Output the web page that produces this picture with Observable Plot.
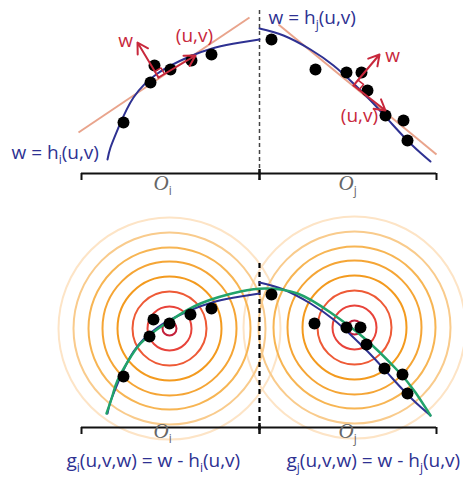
<!DOCTYPE html>
<html>
<head>
<meta charset="utf-8">
<script src="https://cdn.jsdelivr.net/npm/d3@7"></script>
<script src="https://cdn.jsdelivr.net/npm/@observablehq/plot@0.6"></script>
<style>
  html, body { margin: 0; padding: 0; background: #fff; }
  #chart svg { display: block; }
</style>
</head>
<body>
<div id="chart"></div>
<script>
// ---- data (diagram coordinates, y grows downward) ----
const pointsTopLeft = [[123,122],[150,82],[154,65],[170,69],[191,60],[211,54]];
const pointsTopRight = [[271,39],[315,69],[346,72],[361,72],[367,90],[385,115],[403,120],[407,140]];
const pointsBottomLeft = [[123,376],[149,336],[153,319],[169,323],[190,314],[211,308]];
const pointsBottomRight = [[271,294],[314,323],[346,327],[360,327],[366,344],[384,368],[402,374],[407,393]];

const blueTopLeft = [[107,159],[110,147],[118,127],[133,97],[157,73],[187,57],[215,47],[240,42],[259,39]];
const blueTopRight = [[259,28],[283,35],[310,49],[333,65],[353,83],[372,102],[392,124],[412,145],[430,161]];
const blueBottomLeft = [[107,413],[110,401],[118,381],[133,351],[157,327],[187,311],[215,301],[240,296],[259,293]];
const blueBottomRight = [[259,282],[283,289],[310,303],[333,319],[353,337],[372,356],[392,378],[412,399],[430,415]];
const greenCurve = [[106,413],[112,395],[117,380],[128,360],[140,343],[155,330],[170,320],[200,303],[240,291],[265,288],[297,293],[330,312],[363,337],[397,370],[415,392],[430,415]];

const tangentLines = [
  {x1:78, y1:132, x2:249, y2:17},
  {x1:278, y1:24, x2:436, y2:154}
];
const arrowCorners = [[158,77],[353,85]];
const arrowUV = [[195,55],[385,110]];
const arrowW = [[137,42],[379,54]];

const ringCenters = [[169,328],[354,327]];
const ringRadii = [7,22,37,52,67,81,96,111];
const ringColors = ["#c4203a","#e8433a","#ee5a36","#f39a1e","#f5a535","#f7b553","#f9cb8c","#fde4c6"];

const dashedX = 259;
const dashedSpans = [[10,180],[263,432]];
const bracketY = [173,427];
const bracketX = [81,436];
const bracketTick = 7;

const redLabels = [
  {text:"w", x:125, y:40},
  {text:"(u,v)", x:194, y:35},
  {text:"w", x:392, y:55},
  {text:"(u,v)", x:359, y:115}
];
const blueLabels = [
  {text:"w = h_i(u,v)", x:11, y:152},
  {text:"w = h_j(u,v)", x:268, y:17},
  {text:"g_i(u,v,w) = w - h_i(u,v)", x:66, y:460},
  {text:"g_j(u,v,w) = w - h_j(u,v)", x:286, y:460}
];
const domainLabels = [
  {text:"O_i", x:153, y:183},
  {text:"O_j", x:338, y:183},
  {text:"O_i", x:153, y:431},
  {text:"O_j", x:338, y:431}
];

// ---- derived tables for the marks ----
const BLUE = "#2e3192", RED = "#c8283c", SALMON = "#e9a48c", GREEN = "#21a36b";
const rings = [];
ringCenters.forEach(([cx,cy]) => ringRadii.forEach((r,i) => rings.push({x:cx, y:cy, r, color:ringColors[i]})));
rings.sort((a,b) => b.r - a.r);
const arrows = [];
arrowCorners.forEach((c,i) => {
  arrows.push({x1:c[0], y1:c[1], x2:arrowUV[i][0], y2:arrowUV[i][1]});
  arrows.push({x1:c[0], y1:c[1], x2:arrowW[i][0], y2:arrowW[i][1]});
});
const rightAngles = [];
arrowCorners.forEach((c,i) => {
  const s = 7;
  const ux = arrowUV[i][0]-c[0], uy = arrowUV[i][1]-c[1], ul = Math.hypot(ux,uy);
  const wx = arrowW[i][0]-c[0], wy = arrowW[i][1]-c[1], wl = Math.hypot(wx,wy);
  const a = [c[0]+s*ux/ul, c[1]+s*uy/ul];
  const b = [a[0]+s*wx/wl, a[1]+s*wy/wl];
  const d = [c[0]+s*wx/wl, c[1]+s*wy/wl];
  rightAngles.push({id:i, pts:[a,b,d]});
});
const rightAnglePts = rightAngles.flatMap(r => r.pts.map(p => ({id:r.id, x:p[0], y:p[1]})));
const dashed = dashedSpans.map(([y1,y2]) => ({x:dashedX, y1, y2}));
const brackets = bracketY.map(y => ({y, x1:bracketX[0], x2:bracketX[1]}));
const ticks = bracketY.flatMap(y => bracketX.map(x => ({x, y1:y, y2:y+bracketTick})));
const midTicks = bracketY.map(y => ({x:dashedX, y1:y-4, y2:y+7}));
const toXY = arr => arr.map(([x,y]) => ({x,y}));

const chart = Plot.plot({
  width: 463,
  height: 477,
  margin: 0,
  x: {domain:[0,463], range:[0,463], axis:null},
  y: {domain:[0,477], range:[0,477], axis:null},
  r: {type:"identity"},
  style: {background:"#fff"},
  marks: [
    Plot.dot(rings, {x:"x", y:"y", r:"r", stroke:"color", strokeWidth:2, fill:"none"}),
    Plot.ruleX(dashed.slice(0,1), {x:"x", y1:"y1", y2:"y2", stroke:"#444", strokeWidth:1.5, strokeDasharray:"4,3"}),
    Plot.ruleX(dashed.slice(1), {x:"x", y1:"y1", y2:"y2", stroke:"#000", strokeWidth:2.2, strokeDasharray:"5,4"}),
    Plot.ruleY(brackets, {y:"y", x1:"x1", x2:"x2", stroke:"#111", strokeWidth:2}),
    Plot.ruleX(ticks, {x:"x", y1:"y1", y2:"y2", stroke:"#111", strokeWidth:2}),
    Plot.ruleX(midTicks, {x:"x", y1:"y1", y2:"y2", stroke:"#111", strokeWidth:2.5}),
    Plot.link(tangentLines, {x1:"x1", y1:"y1", x2:"x2", y2:"y2", stroke:SALMON, strokeWidth:2}),
    Plot.line(toXY(blueTopLeft), {x:"x", y:"y", stroke:BLUE, strokeWidth:2, curve:"natural"}),
    Plot.line(toXY(blueTopRight), {x:"x", y:"y", stroke:BLUE, strokeWidth:2, curve:"natural"}),
    Plot.line(toXY(blueBottomLeft), {x:"x", y:"y", stroke:BLUE, strokeWidth:2, curve:"natural"}),
    Plot.line(toXY(blueBottomRight), {x:"x", y:"y", stroke:BLUE, strokeWidth:2, curve:"natural"}),
    Plot.line(toXY(greenCurve), {x:"x", y:"y", stroke:GREEN, strokeWidth:2.5, curve:"natural"}),
    Plot.dot(toXY([...pointsTopLeft, ...pointsTopRight, ...pointsBottomLeft, ...pointsBottomRight]), {x:"x", y:"y", r:6, fill:"#000"}),
    Plot.arrow(arrows, {x1:"x1", y1:"y1", x2:"x2", y2:"y2", stroke:RED, strokeWidth:2, headLength:9}),
    Plot.line(rightAnglePts, {x:"x", y:"y", z:"id", stroke:RED, strokeWidth:1.5}),
    Plot.text(redLabels, {x:"x", y:"y", text:"text", fill:RED, fontSize:19, fontFamily:"Open Sans", textAnchor:"middle"}),
    Plot.text(blueLabels, {x:"x", y:"y", text:"text", fill:BLUE, fontSize:19, fontFamily:"Open Sans", textAnchor:"start"}),
    Plot.text(domainLabels, {x:"x", y:"y", text:"text", fill:"#666", fontSize:21, fontFamily:"Liberation Serif", fontStyle:"italic", textAnchor:"start"})
  ]
});

// render "_x" as a lowered subscript
d3.select(chart).selectAll("text").each(function() {
  const s = this.textContent;
  if (!s.includes("_")) return;
  const el = d3.select(this);
  this.textContent = "";
  const parts = s.split(/_(.)/);
  parts.forEach((p, i) => {
    if (p === "") return;
    if (i % 2 === 1) {
      el.append("tspan").attr("dy", 5).attr("font-size", 12).attr("font-style", "normal").attr("font-family", "Open Sans").text(p);
    } else {
      const t = el.append("tspan").text(p);
      if (i > 0) t.attr("dy", -5);
    }
  });
});

document.getElementById("chart").appendChild(chart);
</script>
</body>
</html>
